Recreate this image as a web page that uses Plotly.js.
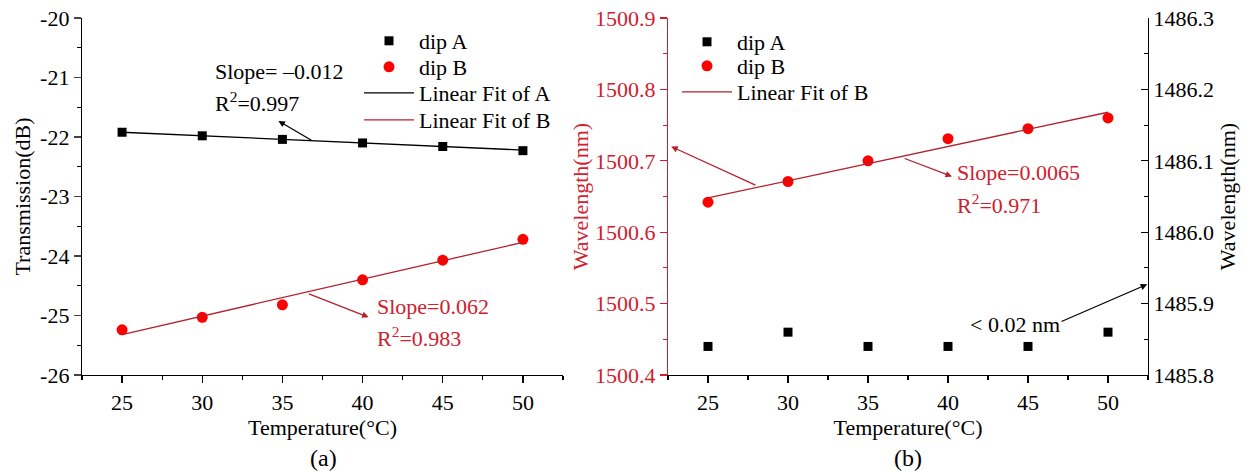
<!DOCTYPE html>
<html>
<head>
<meta charset="utf-8">
<script src="https://cdn.plot.ly/plotly-3.0.1.min.js"></script>
<style>html,body{margin:0;padding:0;background:#fff;}#chart{width:1248px;height:471px;}</style>
</head>
<body>
<div id="chart"></div>
<script>
// ---- data ----
const temperature = [25, 30, 35, 40, 45, 50];
// panel (a): transmission (dB)
const transA = [-21.92, -21.98, -22.04, -22.10, -22.16, -22.23];
const transB = [-25.24, -25.03, -24.82, -24.40, -24.07, -23.72];
const fitX = [25, 50];
const fitTransA = [-21.92, -22.22];
const fitTransB = [-25.32, -23.77];
const transTickVals = [-26, -25, -24, -23, -22, -21, -20];
const transTickText = ['-26', '-25', '-24', '-23', '-22', '-21', '-20'];
// panel (b): wavelength (nm)
const wlA = [1485.84, 1485.86, 1485.84, 1485.84, 1485.84, 1485.86];
const wlB = [1500.642, 1500.671, 1500.700, 1500.731, 1500.745, 1500.760];
const fitWlB = [1500.648, 1500.768];

const RED = '#ff0000';
const DRED = '#b5202e';
const TRED = '#d0202e';
const FONT = 'Liberation Serif, Times New Roman, serif';
const FS = 22;

const traces = [
  {x: temperature, y: transA, xaxis: 'x', yaxis: 'y', mode: 'markers', name: 'dip A',
   marker: {symbol: 'square', size: 9, color: '#000'}, legend: 'legend'},
  {x: temperature, y: transB, xaxis: 'x', yaxis: 'y', mode: 'markers', name: 'dip B',
   marker: {symbol: 'circle', size: 11, color: RED}, legend: 'legend2'},
  {x: fitX, y: fitTransA, xaxis: 'x', yaxis: 'y', mode: 'lines', name: 'Linear Fit of A',
   line: {color: '#000', width: 1.3}, legend: 'legend3'},
  {x: fitX, y: fitTransB, xaxis: 'x', yaxis: 'y', mode: 'lines', name: 'Linear Fit of B',
   line: {color: DRED, width: 1.3}, legend: 'legend4'},
  {x: temperature, y: wlA, xaxis: 'x2', yaxis: 'y4', mode: 'markers', name: 'dip A',
   marker: {symbol: 'square', size: 9, color: '#000'}, legend: 'legend5'},
  {x: temperature, y: wlB, xaxis: 'x2', yaxis: 'y2', mode: 'markers', name: 'dip B',
   marker: {symbol: 'circle', size: 11, color: RED}, legend: 'legend6'},
  {x: fitX, y: fitWlB, xaxis: 'x2', yaxis: 'y2', mode: 'lines', name: 'Linear Fit of B',
   line: {color: DRED, width: 1.3}, legend: 'legend7'}
];

const xDomA = [82/1248, 563/1248];
const xDomB = [668/1248, 1148/1248];
const yDom = [1 - 375/471, 1 - 18/471];
const xRange = [22.5, 52.5];

function baseX(dom, anchor) {
  return {domain: dom, range: xRange, anchor: anchor, showgrid: false, zeroline: false,
    showline: true, linecolor: '#000', linewidth: 1.2, ticks: 'outside', ticklen: 7, tickwidth: 1.2,
    tickcolor: '#000', dtick: 5, tick0: 25,
    minor: {ticks: 'outside', ticklen: 4, dtick: 2.5, tick0: 25, tickcolor: '#000'},
    tickfont: {family: FONT, size: FS, color: '#000'},
    title: {text: 'Temperature(°C)', font: {family: FONT, size: FS, color: '#000'}, standoff: 1}};
}
function topX(dom, anchor, over) {
  return {domain: dom, range: xRange, anchor: anchor, overlaying: over, side: 'top',
    showgrid: false, zeroline: false, showline: true, linecolor: '#000', linewidth: 1.2,
    ticks: 'inside', ticklen: 7, tickwidth: 1.2, tickcolor: '#000', dtick: 5, tick0: 25,
    minor: {ticks: 'inside', ticklen: 4, dtick: 2.5, tick0: 25, tickcolor: '#000'},
    showticklabels: false};
}
function leg(xpx, ypx) {
  return {x: xpx/1248, y: 1 - ypx/471, xanchor: 'left', yanchor: 'middle', bgcolor: 'rgba(0,0,0,0)',
    borderwidth: 0, itemwidth: 50, font: {family: FONT, size: FS, color: '#000'}};
}

const layout = {
  width: 1248, height: 471,
  margin: {l: 0, r: 0, t: 0, b: 0},
  paper_bgcolor: '#fff', plot_bgcolor: '#fff',
  font: {family: FONT, size: FS, color: '#000'},
  xaxis: baseX(xDomA, 'y'),
  xaxis3: topX(xDomA, 'y', 'x'),
  xaxis2: baseX(xDomB, 'y2'),
  xaxis4: topX(xDomB, 'y2', 'x2'),
  yaxis: {domain: yDom, range: [-26, -20], anchor: 'x', showgrid: false, zeroline: false,
    showline: true, linecolor: '#000', linewidth: 1.2, ticks: 'outside', ticklen: 7, tickwidth: 1.2,
    tickmode: 'array', tickvals: transTickVals, ticktext: transTickText,
    minor: {ticks: 'outside', ticklen: 4, dtick: 0.5, tick0: -26, tickcolor: '#000'},
    tickfont: {family: FONT, size: FS, color: '#000'},
    title: {text: 'Transmission(dB)', font: {family: FONT, size: FS, color: '#000'}, standoff: 3}},
  yaxis3: {domain: yDom, range: [-26, -20], anchor: 'x', overlaying: 'y', side: 'right',
    showgrid: false, zeroline: false, showline: true, linecolor: '#000', linewidth: 1.2,
    ticks: 'inside', ticklen: 7, tickwidth: 1.2, dtick: 1, tick0: -26,
    minor: {ticks: 'inside', ticklen: 4, dtick: 0.5, tickcolor: '#000'}, showticklabels: false},
  yaxis2: {domain: yDom, range: [1500.4, 1500.9], anchor: 'x2', showgrid: false, zeroline: false,
    showline: true, linecolor: TRED, linewidth: 1.2, ticks: 'outside', ticklen: 7, tickwidth: 1.2,
    tickcolor: TRED, dtick: 0.1, tick0: 1500.4, tickformat: '.1f',
    minor: {ticks: 'outside', ticklen: 4, dtick: 0.05, tickcolor: TRED},
    tickfont: {family: FONT, size: FS, color: TRED},
    title: {text: 'Wavelength(nm)', font: {family: FONT, size: FS, color: TRED}, standoff: 0}},
  yaxis4: {domain: yDom, range: [1485.8, 1486.3], anchor: 'x2', overlaying: 'y2', side: 'right',
    showgrid: false, zeroline: false, showline: true, linecolor: '#000', linewidth: 1.2,
    ticks: 'inside', ticklen: 7, tickwidth: 1.2, tickcolor: '#000', dtick: 0.1, tick0: 1485.8,
    tickformat: '.1f', minor: {ticks: 'inside', ticklen: 4, dtick: 0.05, tickcolor: '#000'},
    tickfont: {family: FONT, size: FS, color: '#000'},
    title: {text: 'Wavelength(nm)', font: {family: FONT, size: FS, color: '#000'}, standoff: 6}},
  legend: leg(359, 41),
  legend2: leg(359, 67),
  legend3: leg(359, 93),
  legend4: leg(359, 120),
  legend5: leg(677, 42),
  legend6: leg(677, 66),
  legend7: leg(677, 92),
  showlegend: true,
  annotations: [
    // panel (a)
    {xref: 'x', yref: 'y', x: 30.7, y: -20.905, text: 'Slope= \u20130.012', showarrow: false,
     xanchor: 'left', yanchor: 'middle', font: {family: FONT, size: FS, color: '#000'}},
    {xref: 'x', yref: 'y', x: 30.7, y: -21.42, text: 'R<sup>2</sup>=0.997', showarrow: false,
     xanchor: 'left', yanchor: 'middle', font: {family: FONT, size: FS, color: '#000'}},
    {xref: 'x', yref: 'y', axref: 'x', ayref: 'y', x: 34.75, y: -21.73, ax: 36.9, ay: -22.07,
     text: '', showarrow: true, arrowhead: 2, arrowsize: 1, arrowwidth: 1.3, arrowcolor: '#000'},
    {xref: 'x', yref: 'y', x: 40.75, y: -24.843, text: 'Slope=0.062', showarrow: false,
     xanchor: 'left', yanchor: 'middle', font: {family: FONT, size: FS, color: TRED}},
    {xref: 'x', yref: 'y', x: 40.75, y: -25.363, text: 'R<sup>2</sup>=0.983', showarrow: false,
     xanchor: 'left', yanchor: 'middle', font: {family: FONT, size: FS, color: TRED}},
    {xref: 'x', yref: 'y', axref: 'x', ayref: 'y', x: 40.375, y: -25.028, ax: 36.56, ay: -24.625,
     text: '', showarrow: true, arrowhead: 2, arrowsize: 1, arrowwidth: 1.3, arrowcolor: DRED},
    // panel (b)
    {xref: 'x2', yref: 'y2', x: 40.45, y: 1500.684, text: 'Slope=0.0065', showarrow: false,
     xanchor: 'left', yanchor: 'middle', font: {family: FONT, size: FS, color: TRED}},
    {xref: 'x2', yref: 'y2', x: 40.45, y: 1500.639, text: 'R<sup>2</sup>=0.971', showarrow: false,
     xanchor: 'left', yanchor: 'middle', font: {family: FONT, size: FS, color: TRED}},
    {xref: 'x2', yref: 'y2', axref: 'x2', ayref: 'y2', x: 40.25, y: 1500.678, ax: 37.2, ay: 1500.704,
     text: '', showarrow: true, arrowhead: 2, arrowsize: 1, arrowwidth: 1.3, arrowcolor: DRED},
    {xref: 'x2', yref: 'y2', axref: 'x2', ayref: 'y2', x: 22.7, y: 1500.72, ax: 28.06, ay: 1500.665,
     text: '', showarrow: true, arrowhead: 2, arrowsize: 1, arrowwidth: 1.3, arrowcolor: DRED},
    {xref: 'x2', yref: 'y4', x: 47.125, y: 1485.871, text: '&lt; 0.02 nm', showarrow: false,
     xanchor: 'right', yanchor: 'middle', font: {family: FONT, size: FS, color: '#000'}},
    {xref: 'x2', yref: 'y4', axref: 'x2', ayref: 'y4', x: 52.45, y: 1485.927, ax: 47.0, ay: 1485.874,
     text: '', showarrow: true, arrowhead: 2, arrowsize: 1, arrowwidth: 1.3, arrowcolor: '#000'},
    // panel labels
    {xref: 'paper', yref: 'paper', x: 323/1248, y: 1 - 458/471, text: '(a)', showarrow: false,
     xanchor: 'center', yanchor: 'middle', font: {family: FONT, size: 24, color: '#000'}},
    {xref: 'paper', yref: 'paper', x: 908/1248, y: 1 - 458/471, text: '(b)', showarrow: false,
     xanchor: 'center', yanchor: 'middle', font: {family: FONT, size: 24, color: '#000'}}
  ]
};

Plotly.newPlot('chart', traces, layout, {displayModeBar: false, staticPlot: true});
</script>
</body>
</html>
